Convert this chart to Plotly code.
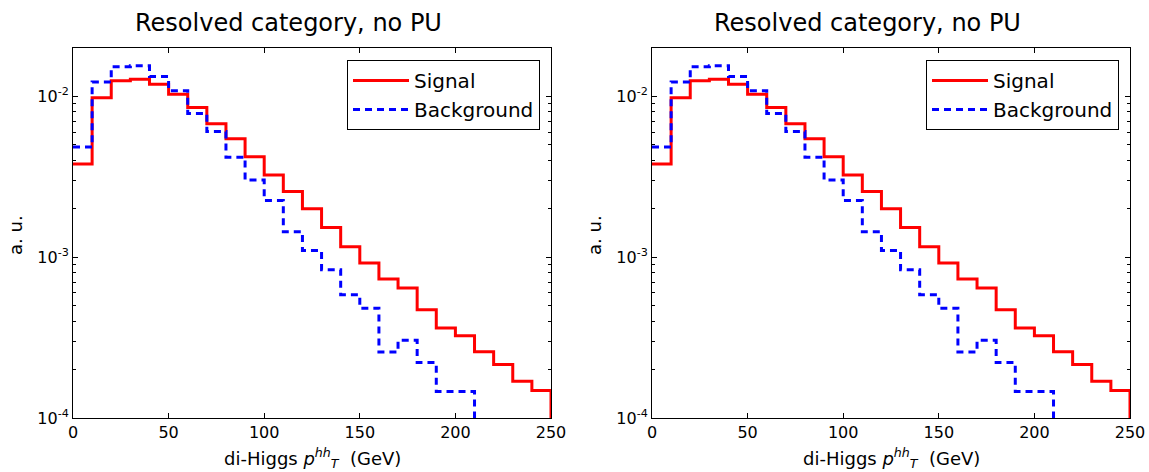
import plotly.graph_objects as go

bin_edges = list(range(0, 260, 10))
signal = [0.0038, 0.0098, 0.0125, 0.0128, 0.0119, 0.0103, 0.00853, 0.00677, 0.00545, 0.00422,
          0.00324, 0.00256, 0.0020, 0.00153, 0.00116, 0.00092, 0.000733, 0.000644, 0.000471, 0.000363,
          0.000325, 0.000258, 0.000215, 0.000169, 0.000148]
background = [0.00484, 0.0123, 0.0153, 0.0155, 0.0133, 0.01086, 0.00782, 0.00604, 0.00419, 0.00302,
              0.00225, 0.00144, 0.0011, 0.000835, 0.000585, 0.000482, 0.000257, 0.000304, 0.000221, 0.000146,
              0.000146, 0, 0, 0, 0]
title_text = "Resolved category, no PU"
xlabel = "di-Higgs <i>p</i><sup><i>hh</i></sup><sub><i>T</i></sub>  (GeV)"
ylabel = "a. u."
xticks = [0, 50, 100, 150, 200, 250]
yticks = [1e-4, 1e-3, 1e-2]
yticktext = ["10<sup>-4</sup>", "10<sup>-3</sup>", "10<sup>-2</sup>"]

FLOOR = 1e-9


def outline(edges, vals):
    # matplotlib "step" histogram outline (left rise hidden under the spine)
    xs, ys = [], []
    for i, v in enumerate(vals):
        vv = v if v > 0 else FLOOR
        xs += [edges[i], edges[i + 1]]
        ys += [vv, vv]
    xs.append(edges[-1])
    ys.append(FLOOR)
    return xs, ys


FONT = "DejaVu Sans"
W, H = 1149, 472
fig = go.Figure()

sx, sy = outline(bin_edges, signal)
bx, by = outline(bin_edges, background)

minor_vals = [m * 10 ** e for e in (-5, -4, -3, -2) for m in range(2, 10)]

xpix = [(73, 551), (652, 1130)]
domains = [[a / W, b / W] for a, b in xpix]
ydom = [(H - 418) / H, (H - 48) / H]

for k in range(2):
    xa = "x" if k == 0 else "x2"
    ya = "y" if k == 0 else "y2"
    lg = "legend" if k == 0 else "legend2"
    fig.add_trace(go.Scatter(x=sx, y=sy, mode="lines", name="Signal", legendgroup="s%d" % k,
                             line=dict(color="#ff0000", width=3), xaxis=xa, yaxis=ya, legend=lg))
    fig.add_trace(go.Scatter(x=bx, y=by, mode="lines", name="Background", legendgroup="b%d" % k,
                             line=dict(color="#0000ff", width=3, dash="7px,5px"), xaxis=xa, yaxis=ya, legend=lg))

    axsuf = "" if k == 0 else "2"
    fig.layout["xaxis" + axsuf] = dict(
        domain=domains[k], range=[0, 250], anchor=ya, automargin=False,
        tickvals=xticks, ticks="inside", ticklen=5, tickwidth=1, tickcolor="black",
        showline=True, linecolor="black", linewidth=1, mirror="ticks",
        showgrid=False, zeroline=False,
        tickfont=dict(family=FONT, size=16, color="black"),
    )
    fig.layout["yaxis" + axsuf] = dict(
        domain=ydom, type="log", range=[-4, 0.30103 - 2], anchor=xa, automargin=False,
        tickmode="array", tickvals=yticks, ticktext=yticktext,
        ticks="inside", ticklen=5, tickwidth=1, tickcolor="black",
        minor=dict(tickmode="array", tickvals=minor_vals, ticks="inside", ticklen=3,
                   tickcolor="black", tickwidth=1, showgrid=False),
        showline=True, linecolor="black", linewidth=1, mirror="ticks",
        showgrid=False, zeroline=False,
        tickfont=dict(family=FONT, size=16, color="black"),
    )
    x0, x1 = xpix[k]
    # title
    fig.add_annotation(text=title_text, x=(x0 + x1) / 2 / W - 24 / W, y=1 - 23 / H, xref="paper", yref="paper",
                       showarrow=False, xanchor="center", yanchor="middle",
                       font=dict(family=FONT, size=24, color="black"))
    # x label
    fig.add_annotation(text=xlabel, x=(x0 + x1) / 2 / W, y=1 - 458 / H, xref="paper", yref="paper",
                       showarrow=False, xanchor="center", yanchor="middle",
                       font=dict(family=FONT, size=18, color="black"))
    # y label
    fig.add_annotation(text=ylabel, x=(x0 - 58) / W, y=1 - 235 / H, xref="paper", yref="paper",
                       showarrow=False, xanchor="center", yanchor="middle", textangle=-90,
                       font=dict(family=FONT, size=18, color="black"))
    fig.layout[lg] = dict(
        x=(x1 - 11) / W, y=ydom[1] - 12 / H, xanchor="right", yanchor="top",
        bgcolor="white", bordercolor="black", borderwidth=1,
        font=dict(family=FONT, size=20, color="black"),
        traceorder="grouped", tracegroupgap=0, itemwidth=56,
    )

fig.update_layout(
    width=W, height=H, margin=dict(l=0, r=0, t=0, b=0),
    plot_bgcolor="white", paper_bgcolor="white", showlegend=True,
)

fig.write_html("out.html", config={"displayModeBar": False},
               post_script="document.body.style.margin='0';document.body.style.padding='0';")
